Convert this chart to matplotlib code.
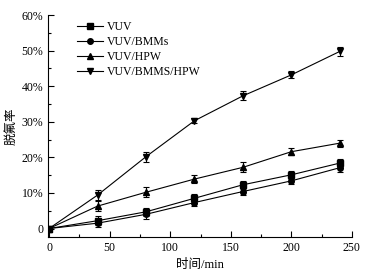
import matplotlib
matplotlib.use("Agg")
import matplotlib.pyplot as plt
from matplotlib.ticker import MultipleLocator, FixedLocator
from matplotlib.lines import Line2D

plt.rcParams['font.family'] = ['Liberation Serif', 'Noto Sans CJK SC']

time = [0, 40, 80, 120, 160, 200, 240]
vuv = [0, 2.2, 4.7, 8.5, 12.3, 15.1, 18.4]
vuv_err = [0.3, 1.2, 1.2, 1.2, 1.1, 1.2, 1.1]
bmms = [0, 1.5, 4.0, 7.3, 10.4, 13.4, 17.1]
bmms_err = [0.3, 1.2, 1.2, 1.0, 1.0, 1.0, 1.2]
hpw = [0, 6.3, 10.2, 13.9, 17.2, 21.6, 24.0]
hpw_err = [0.3, 1.5, 1.4, 1.1, 1.4, 1.0, 1.0]
hybrid = [0, 9.4, 20.2, 30.3, 37.3, 43.2, 49.8]
hybrid_err = [0.3, 1.3, 1.4, 0.7, 1.3, 1.0, 1.3]

labels = ['VUV', 'VUV/BMMs', 'VUV/HPW', 'VUV/BMMS/HPW']
markers = ['s', 'o', '^', 'v']
series = [vuv, bmms, hpw, hybrid]
errors = [vuv_err, bmms_err, hpw_err, hybrid_err]

fig = plt.figure(figsize=(3.76, 2.75), dpi=100)
ax = fig.add_axes([0.128, 0.138, 0.808, 0.807])

handles = []
for y, e, m, lab in zip(series, errors, markers, labels):
    ax.errorbar(time, y, yerr=e, marker=m, color='black', markersize=4,
                linewidth=0.8, elinewidth=0.8, capsize=2, capthick=0.8)
    handles.append(Line2D([], [], color='black', marker=m, markersize=4,
                          linewidth=0.8, label=lab))

ax.set_xlim(-0.8, 250)
ax.set_ylim(-2.4, 60)
ax.xaxis.set_major_locator(MultipleLocator(50))
ax.xaxis.set_minor_locator(MultipleLocator(25))
ax.yaxis.set_major_locator(FixedLocator([0, 10, 20, 30, 40, 50, 60]))
ax.yaxis.set_minor_locator(MultipleLocator(5))
ax.set_yticklabels(['0', '10%', '20%', '30%', '40%', '50%', '60%'])

for s in ['top', 'right']:
    ax.spines[s].set_visible(False)
for s in ['left', 'bottom']:
    ax.spines[s].set_linewidth(0.8)

ax.tick_params(axis='both', which='both', direction='in', labelsize=8.5, width=0.8)
ax.tick_params(which='major', length=4)
ax.tick_params(which='minor', length=2.5)

ax.set_xlabel('时间/min', fontsize=9, labelpad=4)
ax.set_ylabel('脱氟率', fontsize=9, labelpad=3)

leg = ax.legend(handles=handles, loc='upper left', bbox_to_anchor=(0.06, 1.02),
                frameon=False, fontsize=8.5, handlelength=2.2, labelspacing=0.25,
                handletextpad=0.3)

fig.savefig('out.png', dpi=100)
